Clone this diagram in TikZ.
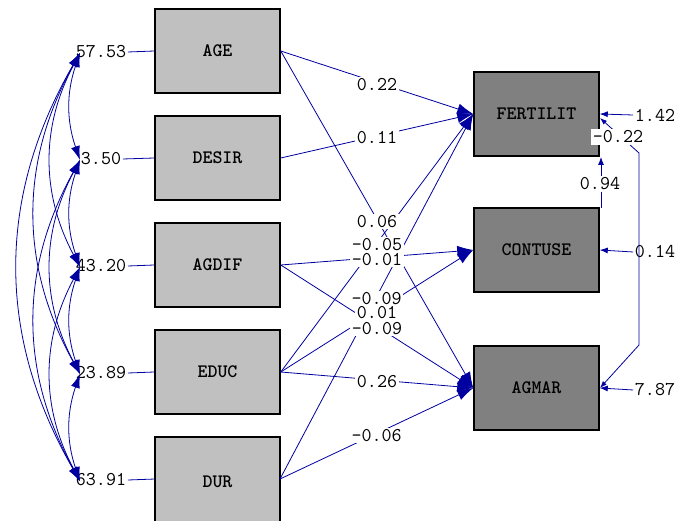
\documentclass[tikz,border=0pt]{standalone}
\usepackage{fontspec}
\usetikzlibrary{arrows.meta}
\definecolor{ln}{RGB}{0,0,160}
\definecolor{lg}{RGB}{192,192,192}
\definecolor{dg}{RGB}{128,128,128}
\begin{document}
\begin{tikzpicture}[x=1pt,y=-1pt,
  var/.style={draw=black, line width=1.5pt, minimum width=125pt, minimum height=84pt, inner sep=0pt, font=\ttfamily\bfseries\fontsize{19}{19}\selectfont},
  xbox/.style={var, fill=lg},
  ybox/.style={var, fill=dg},
  num/.style={fill=white, inner sep=1.5pt, font=\ttfamily\fontsize{19.5}{19.5}\selectfont},
  lab/.style={num, pos=0.5, yshift=-2pt},
  coef/.style={draw=ln, line width=0.8pt, -{Latex[length=16pt,width=11pt]}},
  cov/.style={draw=ln, line width=0.8pt, {Latex[length=14pt,width=9pt]}-{Latex[length=14pt,width=9pt]}},
  errar/.style={draw=ln, line width=0.8pt, -{Latex[length=8pt,width=6pt]}},
  ecov/.style={draw=ln, line width=0.8pt, {Latex[length=7pt,width=5pt]}-{Latex[length=7pt,width=5pt]}},
  plain/.style={draw=ln, line width=0.8pt}
]
\clip (0,0) rectangle (679,521);
\fill[white] (0,0) rectangle (679,521);

% boxes
\node[xbox] (AGE) at (217.5,51) {AGE};
\node[xbox] (DESIR) at (217.5,158) {DESIR};
\node[xbox] (AGDIF) at (217.5,265) {AGDIF};
\node[xbox] (EDUC) at (217.5,372) {EDUC};
\node[xbox, minimum height=90pt] (DUR) at (217.5,482) {DUR};
\node[ybox] (FERT) at (536.5,114) {FERTILIT};
\node[ybox] (CONT) at (536.5,250) {CONTUSE};
\node[ybox] (AGMAR) at (536.5,388) {AGMAR};
\coordinate (DURe) at (280,479);
\coordinate (DURw) at (155,479);

% structural paths
\draw[coef] (AGE.east) -- (FERT.west);
\draw[coef] (DESIR.east) -- (FERT.west);
\draw[coef] (AGE.east) -- (AGMAR.west);
\draw[coef] (EDUC.east) -- (FERT.west);
\draw[coef] (AGDIF.east) -- (CONT.west);
\draw[coef] (DURe) -- (FERT.west);
\draw[coef] (EDUC.east) -- (CONT.west);
\draw[coef] (AGDIF.east) -- (AGMAR.west);
\draw[coef] (EDUC.east) -- (AGMAR.west);
\draw[coef] (DURe) -- (AGMAR.west);

% path labels
\path (AGE.east) -- (FERT.west) node[lab] {0.22};
\path (DESIR.east) -- (FERT.west) node[lab] {0.11};
\path (AGE.east) -- (AGMAR.west) node[lab] {0.06};
\path (EDUC.east) -- (FERT.west) node[lab] {-0.05};
\path (AGDIF.east) -- (CONT.west) node[lab] {-0.01};
\path (DURe) -- (FERT.west) node[lab] {-0.09};
\path (EDUC.east) -- (CONT.west) node[lab] {0.01};
\path (AGDIF.east) -- (AGMAR.west) node[lab] {-0.09};
\path (EDUC.east) -- (AGMAR.west) node[lab] {0.26};
\path (DURe) -- (AGMAR.west) node[lab] {-0.06};

% variances of x
\node[num] (v1) at (101,52) {57.53};
\node[num] (v2) at (101,159) {3.50};
\node[num] (v3) at (101,266) {43.20};
\node[num] (v4) at (101,373) {23.89};
\node[num] (v5) at (101,480) {63.91};
\draw[plain] (v1.east) -- (AGE.west);
\draw[plain] (v2.east) -- (DESIR.west);
\draw[plain] (v3.east) -- (AGDIF.west);
\draw[plain] (v4.east) -- (EDUC.west);
\draw[plain] (v5.east) -- (DURw);

\coordinate (c1) at (80,53);
\coordinate (c2) at (80,160);
\coordinate (c3) at (80,267);
\coordinate (c4) at (80,374);
\coordinate (c5) at (80,481);
\draw[cov] (c1) to[bend right=19] (c2);
\draw[cov] (c1) to[bend right=28] (c3);
\draw[cov] (c1) to[bend right=29] (c4);
\draw[cov] (c1) to[bend right=30] (c5);
\draw[cov] (c2) to[bend right=19] (c3);
\draw[cov] (c2) to[bend right=28] (c4);
\draw[cov] (c2) to[bend right=29] (c5);
\draw[cov] (c3) to[bend right=19] (c4);
\draw[cov] (c3) to[bend right=28] (c5);
\draw[cov] (c4) to[bend right=19] (c5);

% errors
\node[num] (e1) at (655,115) {1.42};
\node[num] (e2) at (655,252) {0.14};
\node[num] (e3) at (655,390) {7.87};
\draw[errar] (e1.west) -- (FERT.east);
\draw[errar] (e2.west) -- (CONT.east);
\draw[errar] (e3.west) -- (AGMAR.east);

% error covariance
\coordinate (k1) at (600,118);
\coordinate (k2) at (639,153);
\coordinate (k3) at (639,345);
\coordinate (k4) at (600,388);
\draw[ecov] (k1) -- (k2) -- (k3) -- (k4);
\node[num] (r1) at (618,137) {-0.22};

% CONTUSE -> FERTILIT
\coordinate (b1) at (601,208);
\coordinate (b2) at (601,157);
\draw[errar] (b1) -- (b2);
\node[num] (r2) at (600,184) {0.94};
\end{tikzpicture}
\end{document}
